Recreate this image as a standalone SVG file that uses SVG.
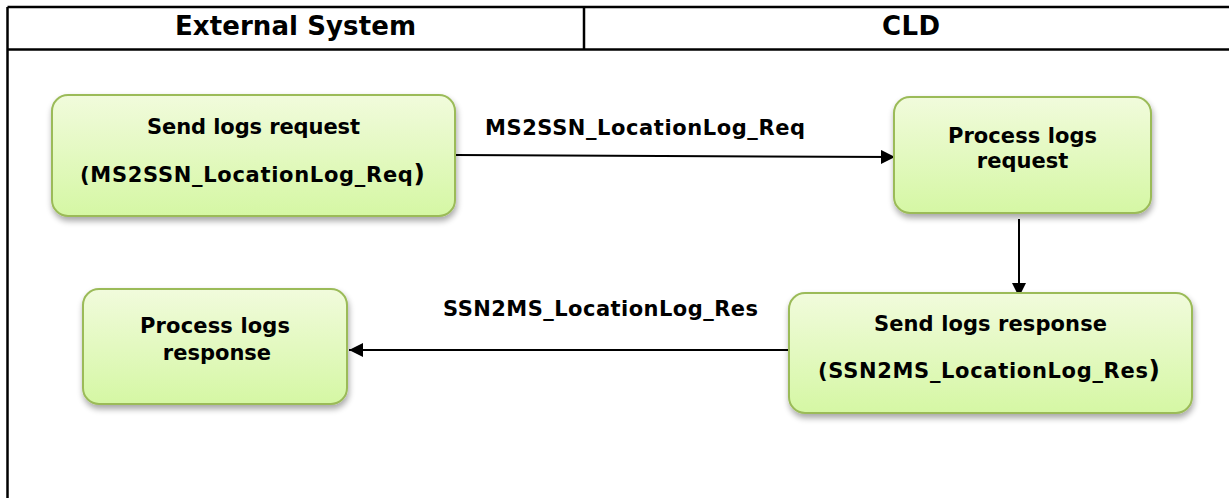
<svg xmlns="http://www.w3.org/2000/svg" width="1229" height="498" viewBox="0 0 1229 498">
<defs>
<linearGradient id="g" x1="0" y1="0" x2="0" y2="1">
<stop offset="0" stop-color="#f1fbdc"/>
<stop offset="1" stop-color="#d5f7a4"/>
</linearGradient>
<filter id="sh" x="-10%" y="-10%" width="120%" height="130%">
<feGaussianBlur in="SourceAlpha" stdDeviation="3"/>
<feOffset dx="1" dy="4" result="b"/>
<feComponentTransfer><feFuncA type="linear" slope="0.35"/></feComponentTransfer>
<feMerge><feMergeNode/><feMergeNode in="SourceGraphic"/></feMerge>
</filter>
<marker id="ah" viewBox="0 0 10 10" refX="10" refY="5" markerWidth="14" markerHeight="14" markerUnits="userSpaceOnUse" orient="auto">
<path d="M0,0 L10,5 L0,10 z" fill="#000"/>
</marker>
</defs>
<style>
.frame{stroke:#000;stroke-width:2.5;fill:none}
.box{fill:url(#g);stroke:#9bbb59;stroke-width:2;filter:url(#sh)}
.t{font-family:"DejaVu Sans",Verdana,sans-serif;font-weight:bold;font-size:21px;fill:#000;text-anchor:middle}
.h{font-family:"DejaVu Sans",Verdana,sans-serif;font-weight:bold;font-size:26px;fill:#000;text-anchor:middle}
.lbl{font-family:"DejaVu Sans",Verdana,sans-serif;font-weight:bold;font-size:21px;fill:#000}
.c{stroke:#000;stroke-width:2;fill:none;marker-end:url(#ah)}
</style>
<rect width="1229" height="498" fill="#fff"/>
<g id="table">
<line class="frame" x1="7.5" y1="7" x2="1229" y2="7"/>
<line class="frame" x1="7.5" y1="49.5" x2="1229" y2="49.5"/>
<line class="frame" x1="7.5" y1="7" x2="7.5" y2="498"/>
<line class="frame" x1="584" y1="7" x2="584" y2="49.5"/>
<text class="h" x="295.5" y="35" textLength="241" lengthAdjust="spacing">External System</text>
<text class="h" x="911" y="35" textLength="58" lengthAdjust="spacing">CLD</text>
</g>
<g id="connectors">
<path class="c" d="M455,155 L895,157"/>
<path class="c" d="M1019,219 L1019,297"/>
<path class="c" d="M790,350 L349,350"/>
<text class="lbl" x="485" y="135" textLength="320" lengthAdjust="spacing">MS2SSN_LocationLog_Req</text>
<text class="lbl" x="443" y="316" textLength="315" lengthAdjust="spacing">SSN2MS_LocationLog_Res</text>
</g>
<g id="n1">
<rect class="box" x="52" y="95" width="403" height="121" rx="16"/>
<text class="t" x="253.5" y="134" textLength="213" lengthAdjust="spacing">Send logs request</text>
<text class="t" x="252.5" y="182" textLength="345" lengthAdjust="spacing">(MS2SSN_LocationLog_Req<tspan font-size="25">)</tspan></text>
</g>
<g id="n2">
<rect class="box" x="894" y="97" width="257" height="116" rx="16"/>
<text class="t" x="1022.5" y="143" textLength="149" lengthAdjust="spacing">Process logs</text>
<text class="t" x="1022.5" y="168">request</text>
</g>
<g id="n3">
<rect class="box" x="83" y="289" width="264" height="115" rx="16"/>
<text class="t" x="215" y="333" textLength="150" lengthAdjust="spacing">Process logs</text>
<text class="t" x="217" y="360">response</text>
</g>
<g id="n4">
<rect class="box" x="789" y="293" width="403" height="120" rx="16"/>
<text class="t" x="990.5" y="331" textLength="233" lengthAdjust="spacing">Send logs response</text>
<text class="t" x="989" y="378" textLength="342" lengthAdjust="spacing">(SSN2MS_LocationLog_Res<tspan font-size="25">)</tspan></text>
</g>
</svg>
